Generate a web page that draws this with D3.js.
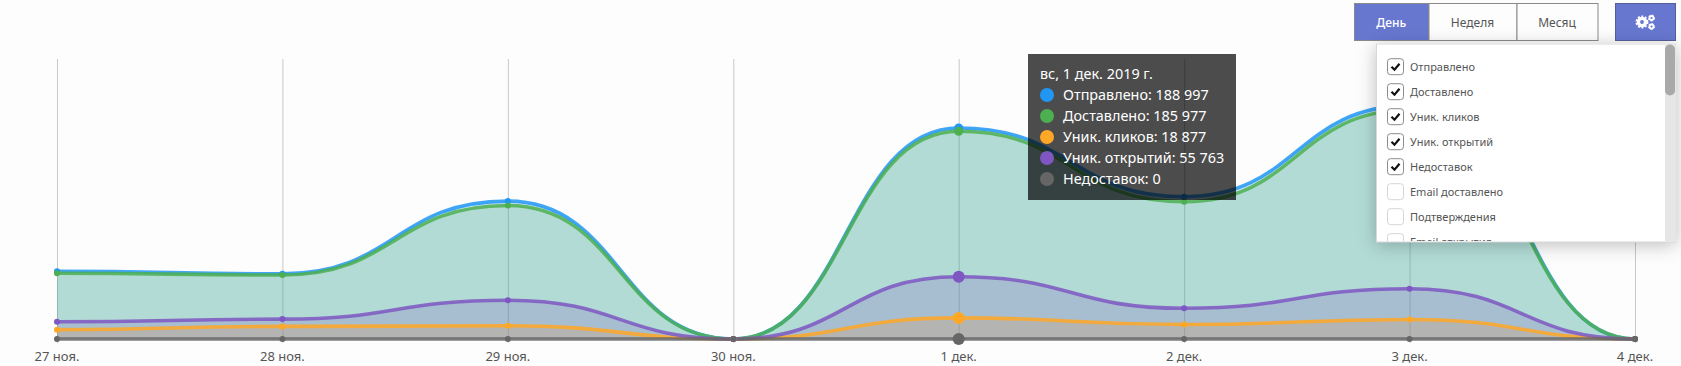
<!DOCTYPE html>
<html lang="ru"><head><meta charset="utf-8">
<script src="https://cdn.jsdelivr.net/npm/d3@7"></script>
<style>
html,body{margin:0;padding:0;background:#fdfdfd;overflow:hidden}
svg{display:block}
text{font-family:"Noto Sans","Open Sans",sans-serif}
</style></head><body>
<svg id="c" width="1681" height="366"></svg>
<script>
const days=["27 ноя.","28 ноя.","29 ноя.","30 ноя.","1 дек.","2 дек.","3 дек.","4 дек."];
const sent=[60700,58400,123500,0,188997,127400,209000,0];
const delivered=[58900,57300,119500,0,185977,123000,205000,0];
const clicks=[8300,11300,11800,0,18877,13000,17500,0];
const opens=[15400,17800,34700,0,55763,27500,45000,0];
const bounced=[0,0,0,0,0,0,0,0];
const seriesNames=["Отправлено","Доставлено","Уник. кликов","Уник. открытий","Недоставок"];
const seriesColors=["#2196f3","#4caf50","#ffa726","#7e57c2","#666666"];
const seriesValues=[sent,delivered,clicks,opens,bounced];
const fmtNames=["Отправлено: 188 997","Доставлено: 185 977","Уник. кликов: 18 877","Уник. открытий: 55 763","Недоставок: 0"];
const tipTitle="вс, 1 дек. 2019 г.";
const hoverIndex=4;
const periods=["День","Неделя","Месяц"];
const menuItems=["Отправлено","Доставлено","Уник. кликов","Уник. открытий","Недоставок","Email доставлено","Подтверждения","Email открытия"];
const menuChecked=[1,1,1,1,1,0,0,0];

const svg=d3.select("#c");
const defs=svg.append("defs");
const x=d3.scaleLinear().domain([0,days.length-1]).range([57,1635]);
const y=d3.scaleLinear().domain([0,250000]).range([339,59.8]);
const g=svg.append("g");
// grid
g.selectAll("line.g").data(days).join("line").attr("x1",(d,i)=>x(i)+.5).attr("x2",(d,i)=>x(i)+.5)
 .attr("y1",59).attr("y2",343).attr("stroke","#c8c8c8").attr("stroke-width",1);
const curve=d3.curveBumpX;
const area=d3.area().x((d,i)=>x(i)).y0(y(0)).y1(d=>y(d)).curve(curve);
const line=d3.line().x((d,i)=>x(i)).y(d=>y(d)).curve(curve);
const plot=g.append("g");
seriesValues.forEach((v,k)=>{
  plot.append("path").attr("d",area(v)).attr("fill",seriesColors[k]).attr("fill-opacity",.21);
});
seriesValues.forEach((v,k)=>{
  plot.append("path").attr("d",line(v)).attr("fill","none").attr("stroke",seriesColors[k]).attr("stroke-width",3.6).attr("stroke-opacity",.85);
});
seriesValues.forEach((v,k)=>{
  g.selectAll(null).data(v).join("circle").attr("cx",(d,i)=>x(i)).attr("cy",d=>y(d))
   .attr("r",(d,i)=>i===hoverIndex?(k<2?4.5:6):3).attr("fill",seriesColors[k]);
});
// x labels
g.selectAll("text.x").data(days).join("text").attr("x",(d,i)=>x(i)).attr("y",361)
 .attr("text-anchor","middle").attr("font-size",13).attr("fill","#555").text(d=>d);

// tooltip
const T={x:1028,y:54,w:208,h:146};
const t=svg.append("g");
t.append("rect").attr("x",T.x).attr("y",T.y).attr("width",T.w).attr("height",T.h).attr("fill","#000").attr("fill-opacity",.7);
t.append("text").attr("x",T.x+12).attr("y",79).attr("font-size",14.4).attr("fill","#fff").text(tipTitle);
fmtNames.forEach((s,i)=>{
  const cy=95+i*21;
  t.append("circle").attr("cx",T.x+19).attr("cy",cy).attr("r",7).attr("fill",seriesColors[i]);
  t.append("text").attr("x",T.x+35).attr("y",cy+5).attr("font-size",14.4).attr("fill","#fff").text(s);
});

// period buttons
const b=svg.append("g");
const bx=[1354,1428.5,1516.5,1597.5];
periods.forEach((p,i)=>{
  b.append("rect").attr("x",bx[i]+.5).attr("y",3.5).attr("width",bx[i+1]-bx[i]).attr("height",37)
   .attr("fill",i===0?"#6777cf":"#fdfdfd").attr("stroke","#8a8a8a");
  b.append("text").attr("x",(bx[i]+bx[i+1])/2).attr("y",26.5).attr("text-anchor","middle").attr("font-size",12)
   .attr("font-weight",i===0?500:400).attr("fill",i===0?"#fff":"#555").text(p);
});
b.append("rect").attr("x",1615.5).attr("y",3.5).attr("width",60).attr("height",37).attr("fill","#6777cf").attr("stroke","#555f96");
[[1642,22,3.6,3.4],[1651.5,18,2,1.8],[1651.5,26.5,2,1.8]].forEach(([cx,cy,r,w])=>{
  b.append("circle").attr("cx",cx).attr("cy",cy).attr("r",r).attr("fill","none").attr("stroke","#fff").attr("stroke-width",w);
  b.append("circle").attr("cx",cx).attr("cy",cy).attr("r",r+w*.6).attr("fill","none").attr("stroke","#fff").attr("stroke-width",w*.5).attr("stroke-dasharray","2 1.6");
});

// dropdown
const f=defs.append("filter").attr("id","sh").attr("x","-10%").attr("y","-10%").attr("width","120%").attr("height","125%");
f.append("feDropShadow").attr("dx",0).attr("dy",3).attr("stdDeviation",9).attr("flood-color","#000").attr("flood-opacity",.25);
const m=svg.append("g");
m.append("rect").attr("x",1376).attr("y",43.5).attr("width",300).attr("height",198.5).attr("fill","#fff").attr("filter","url(#sh)");
m.append("rect").attr("x",1376.5).attr("y",44).attr("width",299).attr("height",198).attr("fill","#fff").attr("stroke","#d8d8d8");
m.append("rect").attr("x",1665).attr("y",44.5).attr("width",11).attr("height",197).attr("fill","#e6e6e6");
m.append("rect").attr("x",1665).attr("y",44.5).attr("width",10).attr("height",51).attr("rx",5).attr("fill","#a9a9a9");
const clip=defs.append("clipPath").attr("id","mc");
clip.append("rect").attr("x",1376).attr("y",44).attr("width",289).attr("height",197);
const mi=m.append("g").attr("clip-path","url(#mc)");
menuItems.forEach((s,i)=>{
  const cy=66.7+i*25;
  mi.append("rect").attr("x",1387.5).attr("y",cy-8).attr("width",16).attr("height",16).attr("rx",3).attr("fill","#fff")
    .attr("stroke",menuChecked[i]?"#8c8c8c":"#d5d5d5");
  if(menuChecked[i]) mi.append("path").attr("d",d3.line()([[1391.5,cy],[1394.5,cy+3],[1399.5,cy-3]])).attr("fill","none").attr("stroke","#111").attr("stroke-width",2.2);
  mi.append("text").attr("x",1410).attr("y",cy+4).attr("font-size",11).attr("fill","#555").text(s);
});
</script>
</body></html>
